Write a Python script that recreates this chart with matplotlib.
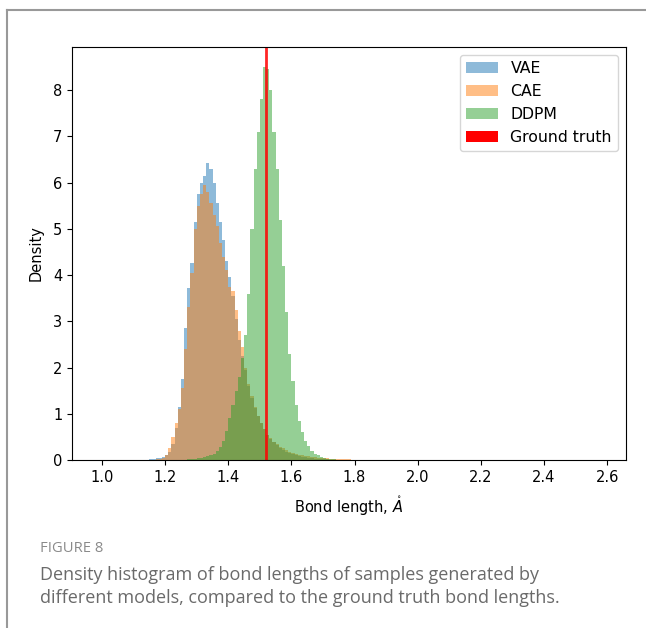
import matplotlib
matplotlib.use("Agg")
import matplotlib.pyplot as plt
from matplotlib.patches import Patch
from matplotlib.lines import Line2D
import numpy as np

# bin width 0.01, left edge of first bin given per model
vae_start = 1.15
vae = [0.02, 0.03, 0.04, 0.04, 0.06, 0.10, 0.18, 0.35, 0.70, 1.15,
       1.75, 2.85, 3.72, 4.25, 5.15, 5.75, 6.00, 6.15, 6.42, 6.30,
       6.00, 5.55, 5.15, 4.75, 4.30, 3.95, 3.55, 3.05, 2.60, 2.25,
       1.95, 1.60, 1.35, 1.12, 0.95, 0.80, 0.66, 0.55, 0.46, 0.38,
       0.32, 0.27, 0.22, 0.18, 0.15, 0.12, 0.10, 0.08, 0.07, 0.06,
       0.05, 0.04, 0.03, 0.03, 0.02, 0.02, 0.015, 0.01, 0.01, 0.01,
       0.005]

cae_start = 1.15
cae = [0.01, 0.01, 0.02, 0.03, 0.05, 0.10, 0.25, 0.50, 0.80, 1.10,
       1.55, 2.40, 3.30, 4.05, 5.00, 5.50, 5.75, 5.95, 5.80, 5.55,
       5.30, 5.05, 4.70, 4.40, 4.10, 3.75, 3.65, 3.25, 2.80, 2.45,
       2.00, 1.65, 1.38, 1.15, 0.95, 0.80, 0.66, 0.55, 0.47, 0.40,
       0.34, 0.29, 0.25, 0.21, 0.18, 0.15, 0.13, 0.11, 0.10, 0.09,
       0.08, 0.07, 0.06, 0.05, 0.05, 0.04, 0.04, 0.03, 0.03, 0.02,
       0.02, 0.02, 0.015, 0.015, 0.01, 0.01, 0.01, 0.01, 0.005, 0.01,
       0.005, 0.005]

ddpm_start = 1.25
ddpm = [0.005, 0.01, 0.015, 0.02, 0.03, 0.04, 0.05, 0.06, 0.08, 0.10,
        0.13, 0.20, 0.28, 0.42, 0.62, 0.90, 1.20, 1.50, 1.80, 2.20,
        2.70, 3.60, 5.00, 6.30, 7.10, 7.80, 8.50, 8.45, 8.00, 7.10,
        6.30, 5.20, 4.20, 3.20, 2.30, 1.70, 1.20, 0.85, 0.60, 0.42,
        0.30, 0.20, 0.14, 0.10, 0.07, 0.05, 0.03, 0.02, 0.015, 0.01,
        0.01]

ground_truth = 1.52
bin_w = 0.01


def edges(start, vals):
    return start + bin_w * np.arange(len(vals) + 1)


fig = plt.figure(figsize=(6.46, 6.28), dpi=100)
ax = fig.add_axes([0.1115, 0.2675, 0.8576, 0.6576])

ax.stairs(vae, edges(vae_start, vae), fill=True, color='C0', alpha=0.5, lw=0)
ax.stairs(cae, edges(cae_start, cae), fill=True, color='C1', alpha=0.5, lw=0)
ax.stairs(ddpm, edges(ddpm_start, ddpm), fill=True, color='C2', alpha=0.5, lw=0)
ax.axvline(ground_truth, color='red', lw=2, alpha=0.85)

ax.set_xlim(0.905, 2.66)
ax.set_ylim(0, 8.93)
ax.set_xticks(np.arange(1.0, 2.61, 0.2))
ax.set_yticks(range(0, 9))
ax.tick_params(labelsize=10.5)
ax.set_xlabel(r'Bond length, $\mathring{A}$', fontsize=10.5, labelpad=7)
ax.set_ylabel('Density', fontsize=10.5, labelpad=7)

handles = [Patch(facecolor='C0', alpha=0.5, edgecolor='none'),
           Patch(facecolor='C1', alpha=0.5, edgecolor='none'),
           Patch(facecolor='C2', alpha=0.5, edgecolor='none'),
           Patch(facecolor='red', edgecolor='none')]
ax.legend(handles, ['VAE', 'CAE', 'DDPM', 'Ground truth'], loc='upper right', fontsize=11.3)

# journal frame and caption
fig.add_artist(Line2D([7 / 646, 7 / 646], [0, 1 - 10 / 628], color='#999999', lw=1.5))
fig.add_artist(Line2D([7 / 646, 1], [1 - 10 / 628, 1 - 10 / 628], color='#999999', lw=1.5))
fig.text(40 / 646, 1 - 548 / 628, 'FIGURE 8', family='Open Sans', fontsize=10.6,
         color='#8a8a8a', va='center')
fig.text(40 / 646, 1 - 575 / 628, 'Density histogram of bond lengths of samples generated by',
         family='Open Sans', fontsize=13, color='#6a6a6a', va='center')
fig.text(40 / 646, 1 - 598 / 628, 'different models, compared to the ground truth bond lengths.',
         family='Open Sans', fontsize=13, color='#6a6a6a', va='center')

fig.savefig('out.png', dpi=100)
